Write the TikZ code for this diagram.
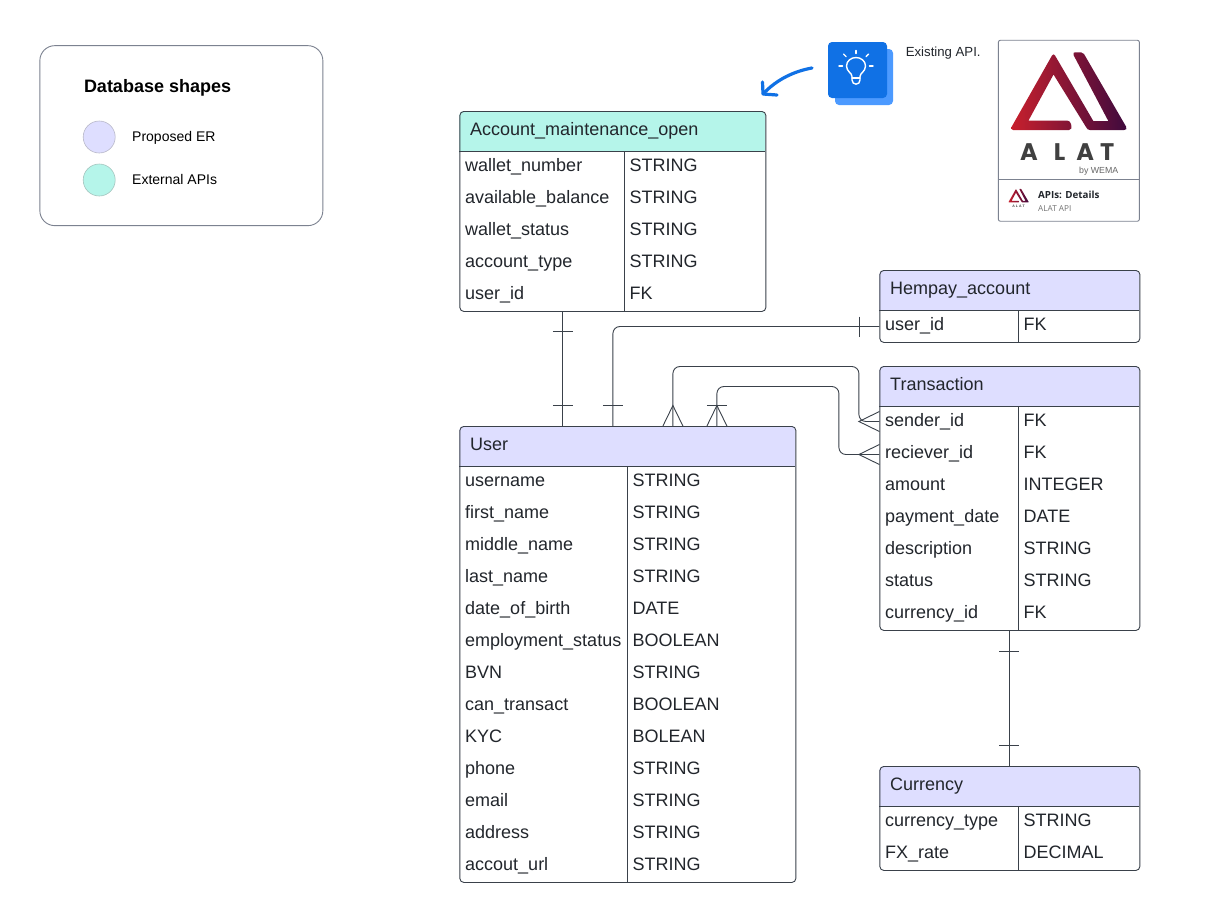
\documentclass[tikz,border=0pt]{standalone}
\usepackage{fontspec}
\setmainfont{Liberation Sans}
\newfontfamily\cardfont{Open Sans}
\newfontfamily\logofont{Poppins}
\usetikzlibrary{arrows.meta}
\definecolor{er}{HTML}{DEDEFF}
\definecolor{ext}{HTML}{B5F5EA}
\definecolor{edge}{HTML}{3A414A}
\definecolor{cardline}{HTML}{7C8290}
\definecolor{ink}{HTML}{22262C}
\definecolor{logoL}{HTML}{C8202D}
\definecolor{logoR}{HTML}{3E0A3E}
\definecolor{bulbA}{HTML}{1071E5}
\definecolor{bulbB}{HTML}{4C9AFF}
\tikzset{
  tablebox/.style={draw=edge,line width=0.9pt,rounded corners=4pt,inner sep=0pt,fill=none},
  rulerline/.style={draw=edge,line width=0.9pt},
  cell/.style={anchor=base west,inner sep=0pt,font=\fontsize{18}{20}\selectfont,text=ink},
  head/.style={anchor=base west,inner sep=0pt,font=\fontsize{18}{20}\selectfont,text=ink},
  link/.style={draw=edge,line width=0.9pt,rounded corners=7pt},
  barmark/.style={draw=edge,line width=0.9pt},
  legendtxt/.style={anchor=base west,inner sep=0pt,font=\fontsize{14}{16}\selectfont,text=black},
}
% \ertable{name}{x0}{x1}{xdiv}{ytop}{nrows}{colour}{title}{rows as left/right}
\newcommand{\ertable}[9]{%
  \pgfmathsetmacro{\ybot}{#5+40+32*#6}
  \fill[#7,rounded corners=4pt] (#2,#5) rectangle (#3,#5+45);
  \fill[white] (#2+0.5,#5+40) rectangle (#3-0.5,#5+46);
  \node[tablebox,minimum width=#3pt-#2pt,minimum height=\ybot pt-#5pt,anchor=north west] (#1) at (#2,#5) {};
  \draw[rulerline] (#2,#5+40) -- (#3,#5+40);
  \draw[rulerline] (#4,#5+40) -- (#4,\ybot);
  \node[head] (#1title) at (#2+10.6,#5+24) {#8};
  \foreach \l/\r [count=\i from 0] in {#9}{
    \node[cell] (#1L\i) at (#2+5.6,#5+60+32*\i) {\l};
    \node[cell] (#1R\i) at (#4+5,#5+60+32*\i) {\r};
  }
}
% ALAT logo in a local frame, 114 wide
\newcommand{\alatpath}{%
  (41,2.5) .. controls (42,1) and (43,1) .. (44,2.5) -- (82.3,68) -- (97.3,68) -- (62.5,2) .. controls (62,0) and (62.5,-0.7) .. (64,-0.7)
  -- (70,-0.7) .. controls (71,-0.7) and (72,-0.2) .. (73,1) -- (115,73.5) .. controls (116.5,76) and (115,77) .. (113,77)
  -- (79,77) .. controls (77,77) and (76,76) .. (75,74) -- (42.5,21.5) -- (17.5,67.5) -- (56,67.5) .. controls (58,67.5) and (59.5,69) .. (60,71)
  .. controls (61,75) and (60.5,77) .. (58,77) -- (2,77) .. controls (0.5,77) and (0,75) .. (0.5,74) -- cycle}
\begin{document}
\begin{tikzpicture}[x=1pt,y=-1pt]
\useasboundingbox (0,0) rectangle (1222,922);
\fill[white] (0,0) rectangle (1222,922);

\begin{scope}[shift={(-0.6,0)}]
% legend
\node[draw=cardline,line width=0.9pt,rounded corners=15pt,minimum width=283pt,minimum height=180pt,anchor=north west,inner sep=0pt] (legend) at (40,45.2) {};
\node[anchor=base west,inner sep=0pt,font=\bfseries\fontsize{18}{20}\selectfont] (legendtitle) at (84.4,92) {Database shapes};
\node[circle,draw=er!70!black!70,fill=er,line width=0.6pt,minimum size=32pt,inner sep=0pt] (dotA) at (99.8,137) {};
\node[circle,draw=ext!70!black!70,fill=ext,line width=0.6pt,minimum size=32pt,inner sep=0pt] (dotB) at (99.8,180) {};
\node[legendtxt] (legA) at (132.6,141) {Proposed ER};
\node[legendtxt] (legB) at (132.6,184) {External APIs};

% tables
\ertable{acc}{460}{766}{625}{111}{5}{ext}{Account\_maintenance\_open}{wallet\_number/STRING,available\_balance/STRING,wallet\_status/STRING,account\_type/STRING,user\_id/FK}
\ertable{user}{460}{796}{628}{426}{13}{er}{User}{username/STRING,first\_name/STRING,middle\_name/STRING,last\_name/STRING,date\_of\_birth/DATE,employment\_status/BOOLEAN,BVN/STRING,can\_transact/BOOLEAN,KYC/BOLEAN,phone/STRING,email/STRING,address/STRING,accout\_url/STRING}
\ertable{hem}{880}{1140}{1019}{270}{1}{er}{Hempay\_account}{user\_id/FK}
\ertable{tra}{880}{1140}{1019}{366}{7}{er}{Transaction}{sender\_id/FK,reciever\_id/FK,amount/INTEGER,payment\_date/DATE,description/STRING,status/STRING,currency\_id/FK}
\ertable{cur}{880}{1140}{1019}{766}{2}{er}{Currency}{currency\_type/STRING,FX\_rate/DECIMAL}

% connector ends
\coordinate (a1) at (563.5,311); \coordinate (u1) at (563.5,426);
\coordinate (h1) at (880,326.5); \coordinate (u2) at (613.5,426);
\coordinate (t1) at (880,421.5); \coordinate (u3) at (673.5,426);
\coordinate (t2) at (880,454.5); \coordinate (u4) at (717.5,426);
\coordinate (t3) at (1010,630); \coordinate (c1) at (1010,766);

\draw[link] (a1) -- (u1);
\draw[link] (h1) -- (613.5,326.5) -- (u2);
\draw[link] (u3) -- (673.5,366.5) -- (859.5,366.5) -- (859.5,421.5) -- (t1);
\draw[link] (u4) -- (717.5,386.5) -- (839.5,386.5) -- (839.5,454.5) -- (t2);
\draw[link] (t3) -- (c1);

% one-marks
\draw[barmark] (553.5,331.5) -- (573.5,331.5);
\draw[barmark] (553.5,405.5) -- (573.5,405.5);
\draw[barmark] (603.5,405.5) -- (623.5,405.5);
\draw[barmark] (860.5,316.5) -- (860.5,336.5);
\draw[barmark] (707.5,405.5) -- (727.5,405.5);
\draw[barmark] (1000,651) -- (1020,651);
\draw[barmark] (1000,745) -- (1020,745);
% crow's feet
\draw[barmark] (663.5,426) -- (673.5,405.5) -- (683.5,426);
\draw[barmark] (707.5,426) -- (717.5,405.5) -- (727.5,426);
\draw[barmark] (880,411.5) -- (859.5,421.5) -- (880,431.5);
\draw[barmark] (880,444.5) -- (859.5,454.5) -- (880,464.5);

% ALAT card frame
\node[draw=cardline,line width=0.9pt,rounded corners=2pt,minimum width=141pt,minimum height=181pt,anchor=north west,inner sep=0pt] (card) at (998.5,39.8) {};
\draw[draw=cardline,line width=0.7pt] (998.5,179.3) -- (1139.5,179.3);
\end{scope}

% idea icon
\fill[bulbB,rounded corners=4pt] (835,49) rectangle (893,105);
\fill[bulbA,rounded corners=4pt] (828,42) rectangle (887,98);
\begin{scope}[draw=white,line width=1.4pt,line cap=round]
  \draw (852,79) -- (852,76.5) .. controls (852,73) and (846.5,71.5) .. (846.5,66) .. controls (846.5,61) and (851,57.5) .. (856,57.5) .. controls (861,57.5) and (865.5,61) .. (865.5,66) .. controls (865.5,71.5) and (860,73) .. (860,76.5) -- (860,80) .. controls (860,85.5) and (852,85.5) .. (852,80) -- cycle;
  \draw (852,78) -- (860,78);
  \draw (856,50.5) -- (856,53.5);
  \draw (843.5,54) -- (846,56.5);
  \draw (868.5,54) -- (866,56.5);
  \draw (839,66) -- (842.5,66);
  \draw (869.5,66) -- (873,66);
\end{scope}
\node[anchor=base west,inner sep=0pt,font=\fontsize{13.2}{15}\selectfont,text=ink] (existing) at (905.6,56) {Existing API.};
\coordinate (arrS) at (812,68); \coordinate (arrE) at (763,94);
\draw[line width=3.2pt,color=bulbA,line cap=round] (arrS) .. controls (795,71) and (777,79) .. (arrE);
\draw[line width=3.2pt,color=bulbA,line cap=round,line join=round] (762.5,82) -- (763,94) -- (777,95);

% ALAT logo
\begin{scope}[shift={(1011,53)}]
  \shade[left color=logoL,right color=logoR] \alatpath;
\end{scope}
\node[anchor=base west,inner sep=0pt,font=\logofont\bfseries\fontsize{24}{26}\selectfont,text=black!75] (alat) at (1020,160) {A\hspace{16pt}L\hspace{11pt}A\hspace{6pt}T};
\node[anchor=base east,inner sep=0pt,font=\fontsize{8.8}{11}\selectfont,text=black!60] (wema) at (1118.5,173) {by WEMA};
\begin{scope}[shift={(1008.5,189)},scale=0.175]
  \shade[left color=logoL,right color=logoR] \alatpath;
\end{scope}
\node[anchor=base,inner sep=0pt,font=\bfseries\fontsize{3.5}{4}\selectfont,text=black!75] (alats) at (1018.5,207.5) {A L A T};
\node[anchor=base west,inner sep=0pt,font=\cardfont\bfseries\fontsize{9.8}{11}\selectfont,text=ink] (apis) at (1038,198.5) {APIs: Details};
\node[anchor=base west,inner sep=0pt,font=\cardfont\fontsize{8.2}{10}\selectfont,text=black!55] (alatapi) at (1038,211) {ALAT API};
\end{tikzpicture}
\end{document}
